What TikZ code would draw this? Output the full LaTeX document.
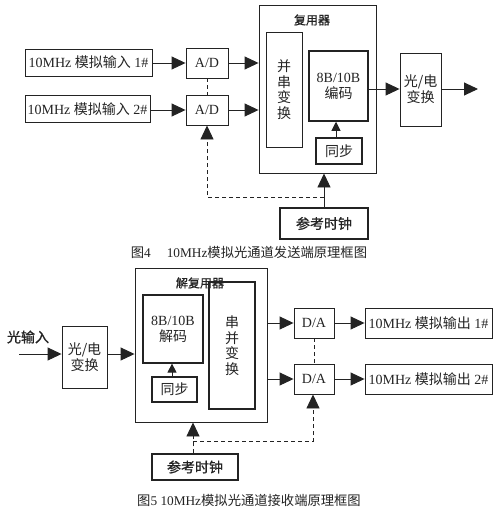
\documentclass[tikz,border=0pt]{standalone}
\usepackage{fontspec}
\setmainfont{Liberation Serif}
\newfontfamily\cjk{Noto Sans CJK SC}
\newfontfamily\cjkm[FakeBold=1]{Noto Sans CJK SC}
\usetikzlibrary{arrows.meta}
\definecolor{ink}{RGB}{35,35,35}
\begin{document}
\begin{tikzpicture}[x=1pt,y=-1pt,
  box/.style={draw=ink,line width=0.9pt,inner sep=0pt,align=center,text=ink,font=\fontsize{14}{16}\selectfont},
  cbox/.style={box,font=\fontsize{14}{16}\selectfont\cjk},
  thick box/.style={box,line width=1.5pt},
  lbl/.style={inner sep=0pt,text=ink,font=\fontsize{13.3}{15}\selectfont},
  arr/.style={draw=ink,line width=0.9pt,-{Triangle[length=14pt,width=13pt]}},
  small arr/.style={draw=ink,line width=0.9pt,-{Triangle[length=9pt,width=9pt]}},
  dsh/.style={draw=ink,line width=0.9pt,dash pattern=on 4pt off 3pt},
  darr/.style={dsh,-{Triangle[length=14pt,width=13pt]}}]
\useasboundingbox (0,0) rectangle (500,511);
% ---------- Figure 4 ----------
\node[box,minimum width=127,minimum height=27] (in1) at (88.5,62.5) {10MHz {\cjk 模拟输入} 1\#};
\node[box,minimum width=125,minimum height=27] (in2) at (87.5,109) {10MHz {\cjk 模拟输入} 2\#};
\node[box,minimum width=42,minimum height=30] (ad1) at (207,63) {A/D};
\node[box,minimum width=42,minimum height=30] (ad2) at (207,110) {A/D};
\node[box,minimum width=117,minimum height=168] (mux) at (317.5,89) {};
\node[lbl,font=\fontsize{12}{14}\selectfont\cjkm] (muxl) at (312,20) {复用器};
\node[cbox,minimum width=36,minimum height=115,font=\fontsize{14}{15.5}\selectfont\cjk] (ps) at (284,89.5) {并\\串\\变\\换};
\node[thick box,minimum width=59,minimum height=70] (enc) at (338.5,86) {8B/10B\\{\cjk 编码}};
\node[cbox,minimum width=46,minimum height=26,line width=1.2pt] (sync1) at (339,151) {同步};
\node[cbox,minimum width=41,minimum height=73] (oe1) at (420.5,89.5) {光/电\\变换};
\node[cbox,minimum width=88,minimum height=31,line width=1.2pt,font=\fontsize{14}{16}\selectfont\cjkm] (clk1) at (324,223.5) {参考时钟};
\coordinate (out1) at (478,89);
\coordinate (j1) at (324,197);
\coordinate (j2) at (207,197);
\draw[arr] (in1.east |- ad1) -- (ad1.west);
\draw[arr] (in2.east |- ad2) -- (ad2.west);
\draw[arr] (ad1.east) -- (ad1.east -| mux.west);
\draw[arr] (ad2.east) -- (ad2.east -| mux.west);
\draw[arr] (enc.east |- out1) -- (oe1.west |- out1);
\draw[arr] (oe1.east |- out1) -- (out1);
\draw[small arr] (sync1.north -| 336,0) -- (enc.south -| 336,0);
\draw[arr] (clk1.north) -- (clk1.north |- mux.south);
\draw[dsh] (ad1.south) -- (ad2.north);
\draw[darr] (j1) -- (j2) -- (ad2.south);
\node[lbl] (cap1) at (249,252) {{\cjk 图}4\hspace{1.2em}10MHz{\cjk 模拟光通道发送端原理框图}};
% ---------- Figure 5 ----------
\node[lbl,font=\fontsize{14}{16}\selectfont\cjkm] (ini) at (28,337) {光输入};
\coordinate (src) at (19,354);
\node[cbox,minimum width=45,minimum height=62] (oe2) at (84.5,357) {光/电\\变换};
\node[box,minimum width=132,minimum height=154] (dmx) at (201,345) {};
\node[lbl,font=\fontsize{12}{14}\selectfont\cjkm] (dmxl) at (200,283) {解复用器};
\node[box,minimum width=60,minimum height=68,line width=1.2pt] (dec) at (173,329) {8B/10B\\{\cjk 解码}};
\node[cbox,thick box,minimum width=45,minimum height=25,font=\fontsize{14}{16}\selectfont\cjk] (sync2) at (174.5,389.5) {同步};
\node[cbox,thick box,minimum width=46,minimum height=127,font=\fontsize{14}{15.5}\selectfont\cjk] (sp) at (232,345.5) {串\\并\\变\\换};
\node[box,minimum width=40,minimum height=30] (da1) at (314,323) {D/A};
\node[box,minimum width=40,minimum height=30] (da2) at (314,379) {D/A};
\node[box,minimum width=127,minimum height=30] (o1) at (428.5,323) {10MHz {\cjk 模拟输出} 1\#};
\node[box,minimum width=127,minimum height=30] (o2) at (428.5,379) {10MHz {\cjk 模拟输出} 2\#};
\node[cbox,minimum width=86,minimum height=26,line width=1.2pt,font=\fontsize{14}{16}\selectfont\cjkm] (clk2) at (195,467) {参考时钟};
\coordinate (k1) at (193,441);
\coordinate (k2) at (313,441);
\draw[arr] (src) -- (src -| oe2.west);
\draw[arr] (oe2.east |- src) -- (src -| dmx.west);
\draw[small arr] (sync2.north -| 172,0) -- (dec.south -| 172,0);
\draw[arr] (dmx.east |- da1) -- (da1.west);
\draw[arr] (dmx.east |- da2) -- (da2.west);
\draw[arr] (da1.east) -- (o1.west);
\draw[arr] (da2.east) -- (o2.west);
\draw[darr] (clk2.north -| k1) -- (k1 |- dmx.south);
\draw[dsh] (da1.south) -- (da2.north);
\draw[darr] (k1) -- (k2) -- (k2 |- da2.south);
\node[lbl] (cap2) at (249,500) {{\cjk 图}5 10MHz{\cjk 模拟光通道接收端原理框图}};
\end{tikzpicture}
\end{document}
